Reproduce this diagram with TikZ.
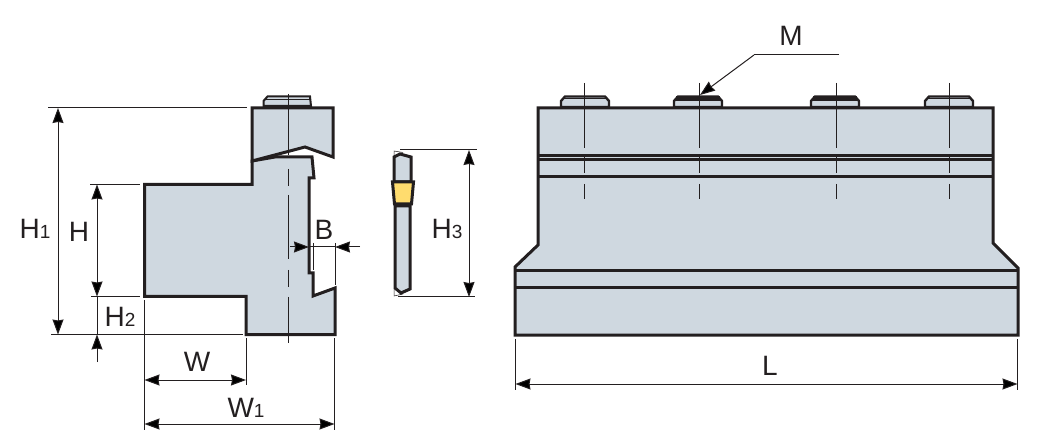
\documentclass[tikz,border=0pt]{standalone}
\usepackage{fontspec}
\setmainfont{Liberation Sans}
\usetikzlibrary{arrows.meta, calc, positioning}
\definecolor{bodygray}{HTML}{CFD8E0}
\definecolor{tipyellow}{HTML}{FFDC6E}
\definecolor{inkdark}{HTML}{231F20}
\newcommand{\dimidx}[1]{{\fontsize{19}{19}\selectfont #1}}

\begin{document}
\begin{tikzpicture}[x=1pt, y=-1pt, >={Stealth[length=15pt, width=11pt, inset=1pt]}]
    \tikzstyle{part} = [draw=inkdark, line width=3pt, fill=bodygray, line join=miter]
    \tikzstyle{rule} = [draw=inkdark, line width=3pt]
    \tikzstyle{thin} = [draw=inkdark, line width=1pt]
    \tikzstyle{axis} = [draw=inkdark, line width=0.9pt]
    \tikzstyle{format} = [inner sep=0pt, text=inkdark, font=\fontsize{28}{28}\selectfont]

    \useasboundingbox (0,0) rectangle (1052,446);

    % side view
    \draw[part] (252,161) -- (275,157) -- (312,157) -- (314,178) -- (309,178)
        -- (309,273) -- (313,273) -- (313,296) -- (335,288) -- (335,334.5)
        -- (246,334.5) -- (246,296.5) -- (144.5,296.5) -- (144.5,184.5) -- (252,184.5) -- cycle;
    \draw[part] (252,108) -- (333,108) -- (333,157) -- (305,147) -- (252,161) -- cycle;
    \draw[part, line width=2pt] (263.5,106) -- (263.5,101) -- (267.5,96.5) -- (310,96.5) -- (311,106) -- cycle;
    \draw[draw=inkdark, line width=1pt] (266,100) -- (310,100);
    \draw[axis] (288,94) -- (288,155);
    \draw[axis] (288,169) -- (288,186);
    \draw[axis] (288,195) -- (288,259);
    \draw[axis] (288,270) -- (288,287);
    \draw[axis] (288,297) -- (288,343);

    % blade
    \draw[part] (395,206) -- (395,288) -- (401,293) -- (410,289) -- (410,206) -- cycle;
    \draw[part] (394,182) -- (394,157) -- (400,154) -- (411,157) -- (411,182) -- cycle;
    \draw[draw=inkdark, line width=3pt, fill=tipyellow] (392.5,182) -- (413.5,182) -- (411.5,204) -- (394.5,204) -- cycle;
    \draw[draw=inkdark, line width=4pt] (394,205.5) -- (411,205.5);
    \draw[draw=inkdark, line width=0.5pt] (394,156) -- (394,151) -- (403,152.5);
    \draw[draw=inkdark, line width=0.5pt] (394,289) -- (394,296) -- (403,294);

    % front view
    \draw[part] (538,108) -- (993,108) -- (993,243) -- (1018,268) -- (1018,335)
        -- (515,335) -- (515,267) -- (538,245) -- cycle;
    \draw[rule] (538,156) -- (993,156);
    \draw[rule] (538,159.5) -- (993,159.5);
    \draw[rule] (538,176.5) -- (993,176.5);
    \draw[rule] (516,271) -- (1018,271);
    \draw[rule] (516,288) -- (1018,288);
    \foreach \xa/\xb/\wa in {561/609/1, 674/722/5, 811/859/5, 925/973/1} {
        \draw[part, line width=2.4pt] (\xa,107) -- (\xa,101) -- (\xa+4,96.5) -- (\xb-4,96.5) -- (\xb,101) -- (\xb,107) -- cycle;
        \draw[draw=inkdark, line width=\wa pt] (\xa+2,99) -- (\xb-2,99);
    }
    \foreach \xa in {584.5, 699.5, 836.5, 949.5} {
        \draw[axis] (\xa,83) -- (\xa,148);
        \draw[axis] (\xa,157) -- (\xa,173);
        \draw[axis] (\xa,184) -- (\xa,199);
    }

    % dimension ends
    \coordinate (h1top) at (48,108);
    \coordinate (h1topR) at (247,108);
    \coordinate (hoben) at (90,184.5);
    \coordinate (hobenR) at (140,184.5);
    \coordinate (hunten) at (91,296.5);
    \coordinate (huntenR) at (140,296.5);
    \coordinate (base) at (51,334.5);
    \coordinate (baseR) at (243,334.5);
    \coordinate (h1arrowA) at (58,108);
    \coordinate (h1arrowB) at (58,334.5);
    \coordinate (harrowA) at (97,184.5);
    \coordinate (harrowB) at (97,296.5);
    \coordinate (h2tip) at (97,334.5);
    \coordinate (h2tail) at (97,362);
    \coordinate (wA) at (144.5,300);
    \coordinate (wB) at (144.5,430);
    \coordinate (wmidA) at (246,338);
    \coordinate (wmidB) at (246,385);
    \coordinate (wendA) at (334.5,338);
    \coordinate (wendB) at (334.5,430);
    \coordinate (warrowA) at (144.5,380);
    \coordinate (warrowB) at (246,380);
    \coordinate (w1arrowA) at (144.5,424);
    \coordinate (w1arrowB) at (334.5,424);
    \coordinate (bextA) at (313,243);
    \coordinate (bextB) at (313,270);
    \coordinate (bextC) at (335,243);
    \coordinate (bextD) at (335,285);
    \coordinate (bleft) at (290,247);
    \coordinate (btipL) at (309,247);
    \coordinate (btipR) at (335,247);
    \coordinate (bright) at (360,247);
    \coordinate (h3topA) at (400,150);
    \coordinate (h3topB) at (477,150);
    \coordinate (h3botA) at (398,297);
    \coordinate (h3botB) at (475,297);
    \coordinate (h3arrowA) at (469,150);
    \coordinate (h3arrowB) at (469,297);
    \coordinate (lextA) at (515.5,339);
    \coordinate (lextB) at (515.5,390);
    \coordinate (rextA) at (1017.5,339);
    \coordinate (rextB) at (1017.5,390);
    \coordinate (larrowA) at (515.5,384);
    \coordinate (larrowB) at (1017.5,384);
    \coordinate (mstart) at (839,55);
    \coordinate (mknee) at (754,55);
    \coordinate (mtip) at (700,95);

    \path[thin]
        (h1top) edge (h1topR)
        (hoben) edge (hobenR)
        (hunten) edge (huntenR)
        (base) edge (baseR)
        (wA) edge (wB)
        (wmidA) edge (wmidB)
        (wendA) edge (wendB)
        (bextA) edge (bextB)
        (bextC) edge (bextD)
        (h3topA) edge (h3topB)
        (h3botA) edge (h3botB)
        (lextA) edge (lextB)
        (rextA) edge (rextB)

        (h1arrowA) edge[<->] (h1arrowB)
        (harrowA) edge[<->] (harrowB)
        (harrowB) edge (h2tip)
        (h2tail) edge[->] (h2tip)
        (warrowA) edge[<->] (warrowB)
        (w1arrowA) edge[<->] (w1arrowB)
        (bleft) edge[->] (btipL)
        (bright) edge[->] (btipR)
        (btipL) edge (btipR)
        (h3arrowA) edge[<->] (h3arrowB)
        (larrowA) edge[<->] (larrowB)
        (mstart) edge (mknee)
        (mknee) edge[->] (mtip)
    ;

    % labels
    \path
        node[format] (H1) at (35,229) {H\dimidx{1}}
        node[format] (H) at (79,232) {H}
        node[format] (H2) at (120,317) {H\dimidx{2}}
        node[format] (W) at (197,362) {W}
        node[format] (W1) at (246,408) {W\dimidx{1}}
        node[format] (B) at (324,230) {B}
        node[format] (H3) at (447,229) {H\dimidx{3}}
        node[format] (M) at (791,36) {M}
        node[format] (L) at (770,366) {L}
    ;
\end{tikzpicture}
\end{document}
